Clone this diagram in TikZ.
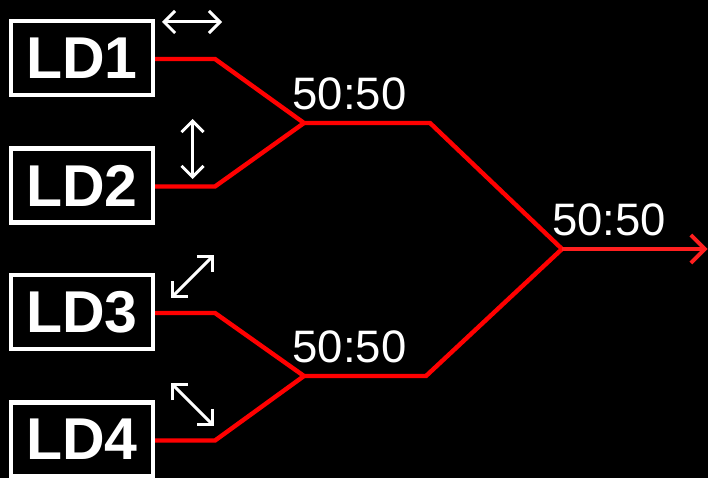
\documentclass[tikz,border=0pt]{standalone}
\usepackage{fontspec}
\setmainfont{Liberation Sans}
\usetikzlibrary{arrows.meta}
\tikzset{
  ldbox/.style={draw=white,line width=4.2pt,fill=black,text=white,minimum width=142pt,minimum height=74pt,inner sep=0pt,font=\fontsize{59}{59}\selectfont\bfseries},
  ratio/.style={text=white,inner sep=0pt,font=\fontsize{45.5}{46}\selectfont},
  fiber/.style={draw=red,line width=4.4pt,line join=miter},
  output/.style={draw=red!88!white,line width=3.8pt,-{Straight Barb[length=14pt,width=28pt,line width=3.8pt]}},
  motion/.style={draw=white,line width=3pt,{Straight Barb[length=11pt,width=22pt,line width=3pt]}-{Straight Barb[length=11pt,width=22pt,line width=3pt]}}
}
\begin{document}
\begin{tikzpicture}[x=1pt,y=-1pt]
\useasboundingbox (0,0) rectangle (708,478);
\fill[black] (0,0) rectangle (708,478);
\node[ldbox] (ld1) at (82,58) {LD1};
\node[ldbox] (ld2) at (82,185.5) {LD2};
\node[ldbox] (ld3) at (82,312) {LD3};
\node[ldbox] (ld4) at (82,439.5) {LD4};
\coordinate (b1) at (215,59);
\coordinate (b2) at (215,186.5);
\coordinate (b3) at (215,313);
\coordinate (b4) at (215,440.5);
\coordinate (j1) at (304,123);
\coordinate (j2) at (304,376);
\coordinate (k1) at (430,123);
\coordinate (k2) at (426,376);
\coordinate (j3) at (562,249);
\coordinate (out) at (707.5,249);
\draw[fiber] (ld1.east |- b1) -- (b1) -- (j1) -- (k1) -- (j3);
\draw[fiber] (ld2.east |- b2) -- (b2) -- (j1);
\draw[fiber] (ld3.east |- b3) -- (b3) -- (j2) -- (k2) -- (j3);
\draw[fiber] (ld4.east |- b4) -- (b4) -- (j2);
\draw[output] (j3) -- (out);
\node[ratio] (r1) at (349.5,94) {50:50};
\node[ratio] (r2) at (349.5,347) {50:50};
\node[ratio] (r3) at (609,220) {50:50};
\coordinate (m1a) at (162,22);
\coordinate (m1b) at (222,22);
\coordinate (m2a) at (192.5,119);
\coordinate (m2b) at (192.5,179);
\coordinate (m3a) at (171,298);
\coordinate (m3b) at (214,255);
\coordinate (m4a) at (171,383);
\coordinate (m4b) at (214,426);
\draw[motion] (m1a) -- (m1b);
\draw[motion] (m2a) -- (m2b);
\draw[motion] (m3a) -- (m3b);
\draw[motion] (m4a) -- (m4b);
\end{tikzpicture}
\end{document}
